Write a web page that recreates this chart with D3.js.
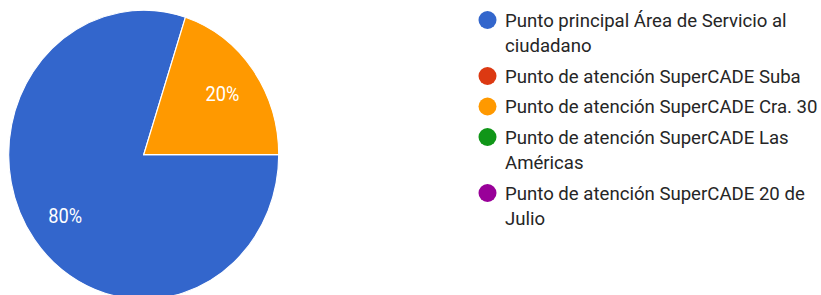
<!DOCTYPE html>
<html>
<head>
<meta charset="utf-8">
<script src="https://cdn.jsdelivr.net/npm/d3@7"></script>
<style>
  body { margin: 0; background: #fff; }
  svg { display: block; font-family: Roboto, "Noto Sans", sans-serif; }
</style>
</head>
<body>
<div id="chart"></div>
<script>
// categories and share of answers (%)
const categories = [
  'Punto principal Área de Servicio al ciudadano',
  'Punto de atención SuperCADE Suba',
  'Punto de atención SuperCADE Cra. 30',
  'Punto de atención SuperCADE Las Américas',
  'Punto de atención SuperCADE 20 de Julio'
];
const values = [80, 0, 20, 0, 0];
const colors = ['#3366cc', '#dc3912', '#ff9900', '#109618', '#990099'];

const width = 821;
const height = 295;

const svg = d3.select('#chart')
    .append('svg')
    .attr('width', width)
    .attr('height', height);

const data = categories.map((c, i) => ({ name: c, value: values[i], color: colors[i] }));

// pie is drawn slightly squashed, like the screenshot
const cx = 143.7, cy = 154.7, rx = 135, ry = 144.5;
const pie = d3.pie()
    .sort(null)
    .value(d => d.value)
    .startAngle(Math.PI / 2)
    .endAngle(Math.PI / 2 + 2 * Math.PI);

const arc = d3.arc().innerRadius(0).outerRadius(ry);
const labelArc = d3.arc().innerRadius(ry * 0.72).outerRadius(ry * 0.72);

const pieG = svg.append('g')
    .attr('transform', 'translate(' + cx + ',' + cy + ') scale(' + (rx / ry) + ',1)');

const arcs = pie(data).filter(d => d.data.value > 0);

pieG.selectAll('path')
    .data(arcs)
    .enter()
    .append('path')
    .attr('d', arc)
    .attr('fill', d => d.data.color)
    .attr('stroke', '#fff')
    .attr('stroke-width', 1.2);

const total = d3.sum(values);
pieG.selectAll('text')
    .data(arcs)
    .enter()
    .append('text')
    .attr('transform', d => 'translate(' + labelArc.centroid(d) + ')')
    .attr('text-anchor', 'middle')
    .attr('dy', '0.36em')
    .attr('fill', '#fff')
    .style('font-size', '19.5px')
    .text(d => Math.round(d.data.value / total * 100) + '%');

// legend
const legX = 487.5, textX = 505, maxW = 318;
const lineH = 25.5, gap = 5;
const leg = svg.append('g');
let y = 20;
data.forEach(d => {
  const g = leg.append('g');
  g.append('circle')
      .attr('cx', legX)
      .attr('cy', y)
      .attr('r', 9)
      .attr('fill', d.color);
  const t = g.append('text')
      .attr('x', textX)
      .attr('fill', '#262626')
      .style('font-size', '18.6px');
  // simple word wrap
  const words = d.name.split(' ');
  let line = [];
  let n = 0;
  let ts = t.append('tspan').attr('x', textX).attr('y', y).attr('dy', '0.36em');
  words.forEach(w => {
    line.push(w);
    ts.text(line.join(' '));
    if (ts.node().getComputedTextLength() > maxW && line.length > 1) {
      line.pop();
      ts.text(line.join(' '));
      line = [w];
      n++;
      ts = t.append('tspan').attr('x', textX).attr('y', y + n * lineH).attr('dy', '0.36em').text(w);
    }
  });
  y += (n + 1) * lineH + gap;
});
</script>
</body>
</html>
